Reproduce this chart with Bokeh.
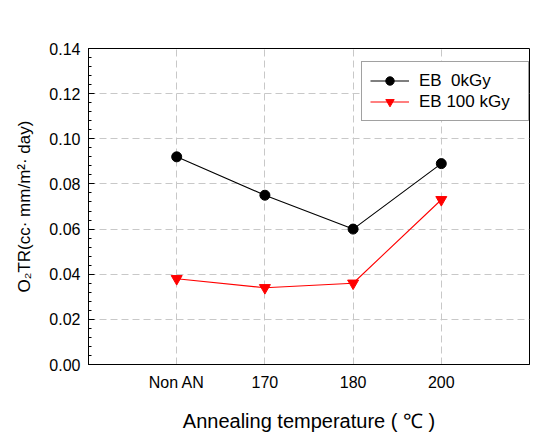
from bokeh.plotting import figure
from bokeh.models import FixedTicker, Range1d, Legend, LegendItem, PrintfTickFormatter
from bokeh.embed import file_html
from bokeh.resources import INLINE

categories = ["Non AN", "170", "180", "200"]
eb_0kgy = [0.092, 0.075, 0.060, 0.089]
eb_100kgy = [0.038, 0.034, 0.036, 0.073]
y_ticks = [0.00, 0.02, 0.04, 0.06, 0.08, 0.10, 0.12, 0.14]
y_minor_step = 0.004

xs = list(range(1, len(categories) + 1))
FONT = "Liberation Sans"

p = figure(width=550, height=434, output_backend="svg", toolbar_location=None,
           x_range=Range1d(0, 5), y_range=Range1d(0, 0.14),
           min_border_left=88, min_border_right=21, min_border_top=48, min_border_bottom=68)

p.outline_line_color = "black"
p.outline_line_width = 1
p.background_fill_color = "white"
p.border_fill_color = "white"

# grid
p.xgrid.ticker = FixedTicker(ticks=xs)
p.xgrid.grid_line_color = "#c8c8c8"
p.xgrid.grid_line_dash = "7 4"
p.ygrid.grid_line_color = "#c8c8c8"
p.ygrid.grid_line_dash = "7 4"

# x axis
p.xaxis.ticker = FixedTicker(ticks=xs)
p.xaxis.major_label_overrides = {x: c for x, c in zip(xs, categories)}
p.xaxis.major_tick_in = 0
p.xaxis.major_tick_out = 0
p.xaxis.minor_tick_in = 0
p.xaxis.minor_tick_out = 0
p.xaxis.axis_line_color = "black"
p.xaxis.major_label_text_font = FONT
p.xaxis.major_label_text_font_size = "16px"
p.xaxis.major_label_text_color = "black"
p.xaxis.major_label_standoff = 9
p.xaxis.axis_label = "Annealing temperature ( \u2103 )"
p.xaxis.axis_label_text_font = FONT
p.xaxis.axis_label_text_font_size = "20px"
p.xaxis.axis_label_text_font_style = "normal"
p.xaxis.axis_label_text_color = "black"
p.xaxis.axis_label_standoff = 16

# y axis
n_minor = int(round(y_ticks[-1] / y_minor_step))
p.yaxis.ticker = FixedTicker(ticks=y_ticks,
                             minor_ticks=[i * y_minor_step for i in range(n_minor + 1)])
p.yaxis.formatter = PrintfTickFormatter(format="%.2f")
p.yaxis.major_tick_in = 6
p.yaxis.major_tick_out = 0
p.yaxis.minor_tick_in = 3
p.yaxis.minor_tick_out = 0
p.yaxis.axis_line_color = "black"
p.yaxis.major_label_text_font = FONT
p.yaxis.major_label_text_font_size = "16px"
p.yaxis.major_label_text_color = "black"
p.yaxis.major_label_standoff = 8
p.yaxis.axis_label = "O\u2082TR(cc\u00b7 mm/m\u00b2\u00b7 day)"
p.yaxis.axis_label_text_font = FONT
p.yaxis.axis_label_text_font_size = "17px"
p.yaxis.axis_label_text_font_style = "normal"
p.yaxis.axis_label_text_color = "black"
p.yaxis.axis_label_standoff = 12

# series
l0 = p.line(xs, eb_0kgy, line_color="black", line_width=1.1)
m0 = p.scatter(xs, eb_0kgy, marker="circle", size=10, fill_color="black", line_color="black")
l1 = p.line(xs, eb_100kgy, line_color="#ff0000", line_width=1.1)
m1 = p.scatter(xs, eb_100kgy, marker="inverted_triangle", size=11, fill_color="#ff0000", line_color="#ff0000")

legend = Legend(items=[LegendItem(label="EB  0kGy", renderers=[l0, m0]),
                       LegendItem(label="EB 100 kGy", renderers=[l1, m1])],
                location=(273, 243))
legend.label_text_font = FONT
legend.label_text_font_size = "17px"
legend.label_text_color = "black"
legend.glyph_width = 39
legend.glyph_height = 21
legend.label_height = 21
legend.label_width = 101
legend.spacing = 0
legend.padding = 8
legend.margin = 0
legend.label_standoff = 10
legend.border_line_color = "#444444"
legend.border_line_width = 1
legend.background_fill_alpha = 1
p.add_layout(legend, "center")

open("out.html", "w").write(file_html(p, INLINE))
